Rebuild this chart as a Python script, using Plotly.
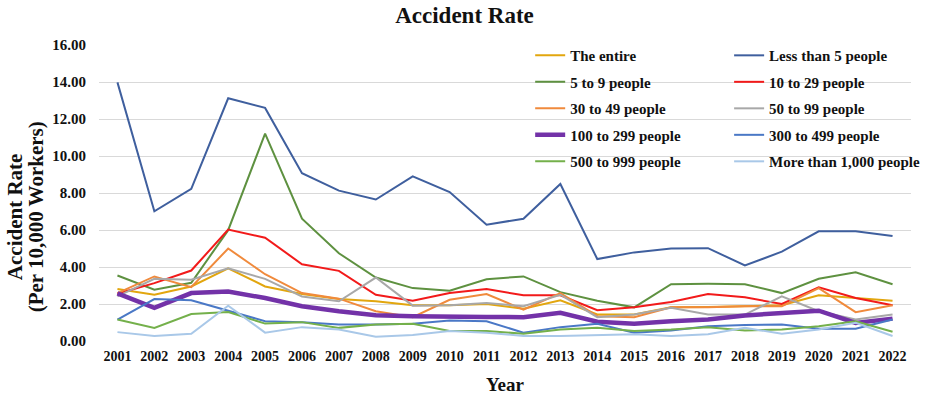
import plotly.graph_objects as go

years = [str(y) for y in range(2001, 2023)]

the_entire = [2.81, 2.50, 2.95, 3.93, 2.95, 2.54, 2.27, 2.15, 1.93, 1.93, 2.00, 1.75, 2.20, 1.43, 1.43, 1.82, 1.84, 1.89, 1.93, 2.47, 2.32, 2.18]
less_than_5 = [13.98, 7.01, 8.22, 13.12, 12.60, 9.07, 8.13, 7.65, 8.90, 8.05, 6.29, 6.61, 8.49, 4.43, 4.79, 5.00, 5.02, 4.08, 4.83, 5.93, 5.93, 5.67]
p5_9 = [3.54, 2.77, 3.15, 5.99, 11.21, 6.61, 4.74, 3.43, 2.86, 2.72, 3.34, 3.49, 2.64, 2.18, 1.82, 3.07, 3.09, 3.07, 2.59, 3.36, 3.72, 3.07]
p10_29 = [2.55, 3.13, 3.81, 6.02, 5.58, 4.15, 3.79, 2.50, 2.18, 2.59, 2.81, 2.47, 2.47, 1.66, 1.82, 2.11, 2.54, 2.36, 2.00, 2.90, 2.32, 1.93]
p30_49 = [2.59, 3.49, 2.91, 5.00, 3.61, 2.59, 2.29, 1.61, 1.29, 2.23, 2.54, 1.70, 2.59, 1.34, 1.29, 1.82, 1.82, 1.88, 1.88, 2.86, 1.56, 1.93]
p50_99 = [2.41, 3.36, 3.31, 3.93, 3.36, 2.41, 2.15, 3.43, 1.91, 1.93, 2.05, 1.88, 2.50, 1.29, 1.43, 1.79, 1.43, 1.43, 2.41, 1.61, 1.16, 1.43]
p100_299 = [2.57, 1.79, 2.59, 2.68, 2.32, 1.88, 1.61, 1.39, 1.34, 1.30, 1.30, 1.29, 1.52, 1.04, 0.93, 1.07, 1.16, 1.38, 1.52, 1.64, 0.98, 1.21]
p300_499 = [1.16, 2.27, 2.20, 1.64, 1.07, 1.02, 0.89, 0.89, 0.93, 1.11, 1.07, 0.45, 0.75, 0.93, 0.45, 0.57, 0.80, 0.86, 0.89, 0.66, 0.66, 1.16]
p500_999 = [1.16, 0.71, 1.46, 1.57, 0.94, 1.02, 0.71, 0.89, 0.93, 0.54, 0.54, 0.39, 0.62, 0.71, 0.54, 0.62, 0.75, 0.57, 0.62, 0.80, 1.07, 0.50]
p1000_plus = [0.48, 0.27, 0.39, 1.91, 0.45, 0.75, 0.62, 0.23, 0.32, 0.54, 0.45, 0.27, 0.27, 0.32, 0.36, 0.27, 0.36, 0.71, 0.39, 0.62, 0.98, 0.27]

y_ticks = [0, 2, 4, 6, 8, 10, 12, 14, 16]
y_tick_text = ["%.2f" % v for v in y_ticks]
y_title_lines = ["Accident Rate", "(Per 10,000 Workers)"]

series = [
    ("The entire", the_entire, "#E2A60E", 2, "legend"),
    ("Less than 5 people", less_than_5, "#3F5F9E", 2, "legend2"),
    ("5 to 9 people", p5_9, "#5E9140", 2, "legend"),
    ("10 to 29 people", p10_29, "#F21A1A", 2, "legend2"),
    ("30 to 49 people", p30_49, "#F08A3C", 2, "legend"),
    ("50 to 99 people", p50_99, "#A8A8A8", 2, "legend2"),
    ("100 to 299 people", p100_299, "#7332A8", 4.5, "legend"),
    ("300 to 499 people", p300_499, "#4A78C6", 2, "legend2"),
    ("500 to 999 people", p500_999, "#74B04B", 2, "legend"),
    ("More than 1,000 people", p1000_plus, "#A9C8E8", 2, "legend2"),
]

serif = "Liberation Serif, Times New Roman, serif"

fig = go.Figure()
for name, vals, color, w, lg in series:
    fig.add_trace(go.Scatter(
        x=years, y=vals, name=name, mode="lines",
        line=dict(color=color, width=w),
        legend=lg, legendgroup=name,
    ))

legend_common = dict(
    orientation="v",
    yanchor="top",
    xanchor="left",
    bgcolor="rgba(0,0,0,0)",
    font=dict(family=serif, size=15, color="#111111", weight="bold"),
    tracegroupgap=4,
    itemwidth=30,
)

# y-axis title as two rotated text lines
for line_text, xpos in zip(y_title_lines, [-0.1041, -0.0780]):
    fig.add_annotation(
        text="<b>%s</b>" % line_text, xref="paper", yref="paper",
        x=xpos, y=0.42, xanchor="center", yanchor="middle",
        textangle=-90, showarrow=False,
        font=dict(family=serif, size=21, color="#111111"),
    )

fig.update_layout(
    width=929, height=395,
    margin=dict(l=99, r=4, t=45, b=52),
    paper_bgcolor="white",
    plot_bgcolor="white",
    title=dict(text="<b>Accident Rate</b>", x=0.5, xanchor="center",
               y=0.962, yref="container", yanchor="middle",
               font=dict(family=serif, size=23, color="#111111")),
    showlegend=True,
    legend=dict(x=0.531, y=1.02, **legend_common),
    legend2=dict(x=0.776, y=1.02, **legend_common),
    xaxis=dict(
        type="category",
        categoryorder="array", categoryarray=years,
        range=[-0.5, len(years) - 0.5],
        showgrid=False,
        showline=False,
        ticks="",
        ticklabelstandoff=5,
        tickfont=dict(family=serif, size=14, color="#111111", weight="bold"),
        title=dict(text="<b>Year</b>", font=dict(family=serif, size=19, color="#111111"), standoff=14),
    ),
    yaxis=dict(
        range=[0, 16],
        tickvals=y_ticks,
        ticktext=y_tick_text,
        showgrid=True, gridcolor="#D9D9D9", gridwidth=1,
        zeroline=False,
        showline=False,
        tickfont=dict(family=serif, size=15, color="#111111", weight="bold"),
        ticklabelstandoff=12,
    ),
)

fig.write_html("out.html")
